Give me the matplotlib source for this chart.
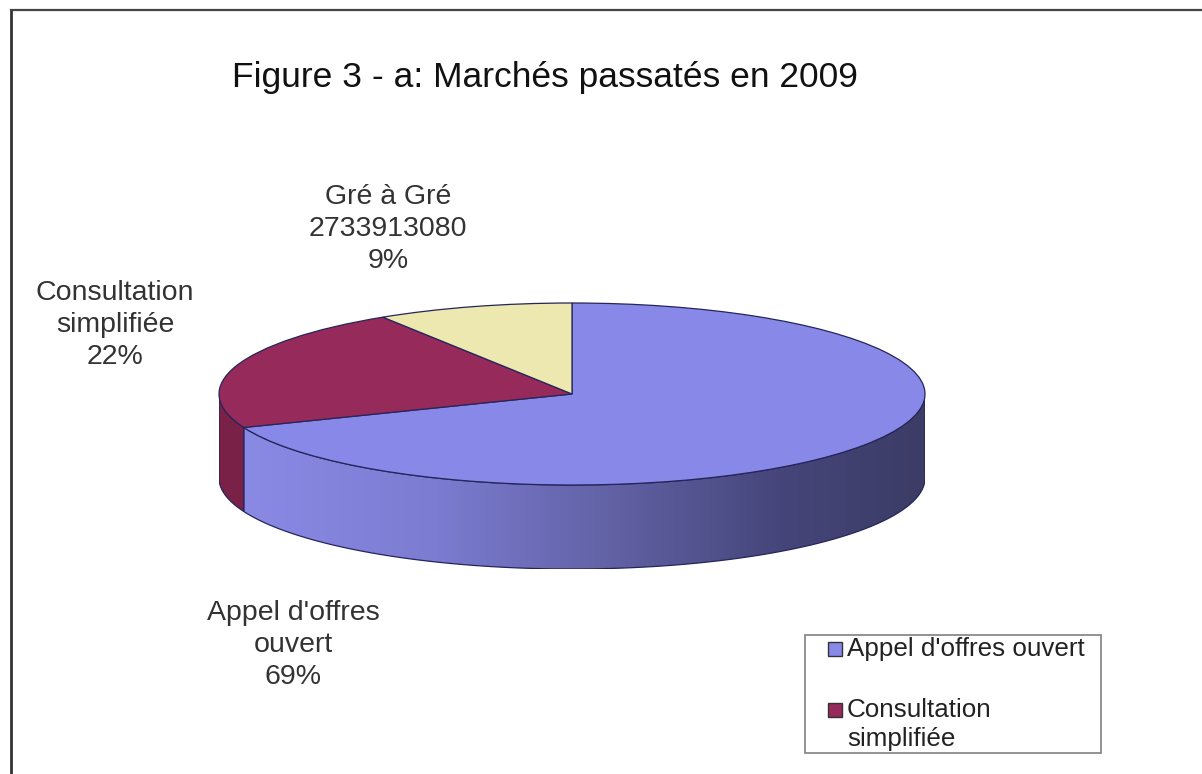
import matplotlib
matplotlib.use("Agg")
import matplotlib.pyplot as plt
import numpy as np
from matplotlib.colors import LinearSegmentedColormap
from matplotlib.lines import Line2D
from matplotlib.patches import Rectangle

plt.rcParams['font.family'] = ['Liberation Sans', 'DejaVu Sans']

# données
categories = ["Appel d'offres ouvert", "Consultation simplifiée", "Gré à Gré"]
legend_labels = ["Appel d'offres ouvert", "Consultation\nsimplifiée"]
percents = [69, 22, 9]
gre_a_gre_montant = "2733913080"

top_colors = ['#8888e8', '#962a5a', '#ece8b0']
side_red = '#7a2148'
edge_col = '#25255a'

W, H = 1202, 774
fig = plt.figure(figsize=(W / 100, H / 100), dpi=100)
fig.patch.set_facecolor('white')

# pixel -> fraction figure
def fx(x):
    return x / W

def fy(y):
    return 1 - y / H

# ellipse : centre (572, 394), rayons 353 x 91, épaisseur 84 px
depth = 84 / 91
ax = fig.add_axes([fx(219), fy(569), 706 / W, 266 / H])

wedges, _ = ax.pie(percents, startangle=90, counterclock=False,
                   colors=top_colors,
                   wedgeprops=dict(edgecolor=edge_col, linewidth=0.9, zorder=3))
ax.set_aspect('auto')
ax.set_xlim(-1, 1)
ax.set_ylim(-1 - depth, 1)
ax.axis('off')

# bords des parts (angles en degrés, sens horaire depuis 90)
cum = np.concatenate([[0], np.cumsum(percents)]) / np.sum(percents)
angles = 90 - 360 * cum  # 90, -158.4, -237.6, -270


def side(a0, a1):
    t = np.radians(np.linspace(a0, a1, 300))
    xs = np.concatenate([np.cos(t), np.cos(t[::-1])])
    ys = np.concatenate([np.sin(t), np.sin(t[::-1]) - depth])
    return xs, ys


# face latérale de "Appel d'offres" : de 201.6° à 360°
a_blue0 = angles[1] + 360
xs, ys = side(a_blue0, 360)
blue_side = ax.fill(xs, ys, facecolor='none', edgecolor=edge_col,
                    linewidth=0.9, zorder=2)[0]
grad_cmap = LinearSegmentedColormap.from_list(
    'side', [(0, '#8c8ce8'), (0.3, '#7c7cd2'), (0.55, '#6262a6'),
             (0.8, '#45457a'), (1, '#3c3c66')])
grad = np.linspace(0, 1, 256).reshape(1, -1)
im = ax.imshow(grad, extent=(-1, 1, -1 - depth, 0), aspect='auto',
               cmap=grad_cmap, zorder=1)
im.set_clip_path(blue_side)

# face latérale de "Consultation simplifiée" : de 180° à 201.6°
xs, ys = side(180, a_blue0)
ax.fill(xs, ys, facecolor=side_red, edgecolor=edge_col, linewidth=0.9,
        zorder=2)

# titre
fig.text(fx(232), fy(77), "Figure 3 - a: Marchés passatés en 2009",
         fontsize=25.5, color='#111111', ha='left', va='center')

# étiquettes
lab_kw = dict(fontsize=20.5, color='#333333', ha='center', va='center',
              linespacing=1.3)
fig.text(fx(388), fy(229), "Gré à Gré\n%s\n%d%%" % (gre_a_gre_montant, percents[2]),
         **lab_kw)
fig.text(fx(115), fy(325), "Consultation\nsimplifiée\n%d%%" % percents[1], **lab_kw)
fig.text(fx(293), fy(645), "Appel d'offres\nouvert\n%d%%" % percents[0], **lab_kw)

# légende (boîte coupée comme dans l'original : seules deux entrées visibles)
leg_sq_y = [642, 703]
leg_txt_y = [650, 711]
for i, lab in enumerate(legend_labels):
    fig.add_artist(Rectangle((fx(828), fy(leg_sq_y[i] + 14)), 14 / W, 14 / H,
                             transform=fig.transFigure,
                             facecolor=wedges[i].get_facecolor(),
                             edgecolor='#333333', linewidth=1.0))
    fig.text(fx(847), fy(leg_txt_y[i] - 13), lab, fontsize=18.7,
             color='#222222', ha='left', va='top', linespacing=1.27)
fig.add_artist(Rectangle((fx(805), fy(753)), 296 / W, 118 / H,
                         transform=fig.transFigure, facecolor='none',
                         edgecolor='#808080', linewidth=1.2))

# cadre
fig.add_artist(Line2D([fx(11), fx(11)], [0, fy(10)], transform=fig.transFigure,
                      color='#333333', linewidth=2))
fig.add_artist(Line2D([fx(11), 1], [fy(10), fy(10)], transform=fig.transFigure,
                      color='#444444', linewidth=1.6))

fig.savefig('out.png', dpi=100)
